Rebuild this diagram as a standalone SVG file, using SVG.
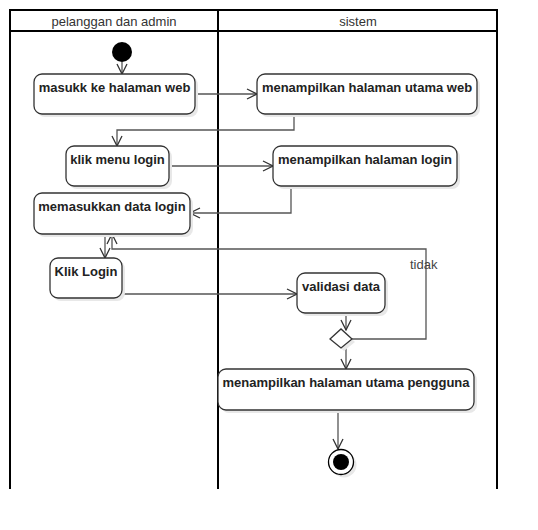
<svg xmlns="http://www.w3.org/2000/svg" width="538" height="530" viewBox="0 0 538 530">
<style>
.lane{stroke:#000;stroke-width:2;fill:none}
.hdr{font-family:"Liberation Sans",Arial,sans-serif;font-size:13px;fill:#333;text-anchor:middle}
.node{fill:#fff;stroke:#333;stroke-width:1.3}
.shadow{fill:#e8e8e8}
.lbl{font-family:"Liberation Sans",Arial,sans-serif;font-size:13px;font-weight:bold;fill:#222;text-anchor:middle}
.edge{fill:none;stroke:#555;stroke-width:1.3}
.guard{font-family:"Liberation Sans",Arial,sans-serif;font-size:13px;fill:#444}
</style>
<defs>
<marker id="arr" markerUnits="userSpaceOnUse" markerWidth="12" markerHeight="12" viewBox="0 0 12 12" refX="11" refY="6" orient="auto">
<path d="M1,1 L11,6 L1,11" fill="none" stroke="#333" stroke-width="1.3"/>
</marker>
</defs>
<rect width="538" height="530" fill="#fff"/>
<g id="lanes">
<path class="lane" d="M10,489 V10 H497 V489 M10,31 H497 M218,10 V489"/>
<text class="hdr" x="114" y="25.5">pelanggan dan admin</text>
<text class="hdr" x="358" y="25.5">sistem</text>
</g>
<g id="connectors">
<path class="edge" d="M122,62 V74" marker-end="url(#arr)"/>
<path class="edge" d="M195,94 H257" marker-end="url(#arr)"/>
<path class="edge" d="M294,114 V130 H117 V146" marker-end="url(#arr)"/>
<path class="edge" d="M169,166 H273" marker-end="url(#arr)"/>
<path class="edge" d="M291,186 V213 H190" marker-end="url(#arr)"/>
<path class="edge" d="M105,234 V258" marker-end="url(#arr)"/>
<path class="edge" d="M122,294 H297" marker-end="url(#arr)"/>
<path class="edge" d="M346,313 V330" marker-end="url(#arr)"/>
<path class="edge" d="M352,339 H426 V249 H112 V234" marker-end="url(#arr)"/>
<path class="edge" d="M346,348 V369" marker-end="url(#arr)"/>
<path class="edge" d="M338,410 V449" marker-end="url(#arr)"/>
<text class="guard" x="410" y="269">tidak</text>
</g>
<g id="start">
<circle cx="122" cy="52" r="10" fill="#000"/>
</g>
<g id="n1">
<rect class="shadow" x="37" y="77" width="161" height="40" rx="8"/>
<rect class="node" x="34" y="74" width="161" height="40" rx="8"/>
<text class="lbl" x="114.5" y="91.5">masukk ke halaman web</text>
</g>
<g id="n2">
<rect class="shadow" x="260" y="77" width="220" height="40" rx="8"/>
<rect class="node" x="257" y="74" width="220" height="40" rx="8"/>
<text class="lbl" x="367" y="91.5">menampilkan halaman utama web</text>
</g>
<g id="n3">
<rect class="shadow" x="69" y="149" width="103" height="40" rx="8"/>
<rect class="node" x="66" y="146" width="103" height="40" rx="8"/>
<text class="lbl" x="117.5" y="163.5">klik menu login</text>
</g>
<g id="n4">
<rect class="shadow" x="276" y="149" width="184" height="40" rx="8"/>
<rect class="node" x="273" y="146" width="184" height="40" rx="8"/>
<text class="lbl" x="365" y="163.5">menampilkan halaman login</text>
</g>
<g id="n5">
<rect class="shadow" x="37" y="196" width="156" height="41" rx="8"/>
<rect class="node" x="34" y="193" width="156" height="41" rx="8"/>
<text class="lbl" x="112" y="211">memasukkan data login</text>
</g>
<g id="n6">
<rect class="shadow" x="53" y="261" width="72" height="40" rx="8"/>
<rect class="node" x="50" y="258" width="72" height="40" rx="8"/>
<text class="lbl" x="86" y="275.5">Klik Login</text>
</g>
<g id="n7">
<rect class="shadow" x="300" y="276" width="88" height="40" rx="8"/>
<rect class="node" x="297" y="273" width="88" height="40" rx="8"/>
<text class="lbl" x="341" y="290.5">validasi data</text>
</g>
<g id="decision">
<path d="M333,342 L344,332 L355,342 L344,351 Z" class="shadow"/>
<path d="M330,339 L341,329 L352,339 L341,348 Z" fill="#fff" stroke="#333" stroke-width="1.3"/>
</g>
<g id="n8">
<rect class="shadow" x="221" y="372" width="256" height="41" rx="8"/>
<rect class="node" x="218" y="369" width="256" height="41" rx="8"/>
<text class="lbl" x="346" y="387">menampilkan halaman utama pengguna</text>
</g>
<g id="end">
<circle cx="344" cy="465" r="12.5" fill="#e8e8e8"/>
<circle cx="341" cy="462" r="12.5" fill="#fff" stroke="#000" stroke-width="1.3"/>
<circle cx="341" cy="462" r="8" fill="#000"/>
</g>
</svg>
